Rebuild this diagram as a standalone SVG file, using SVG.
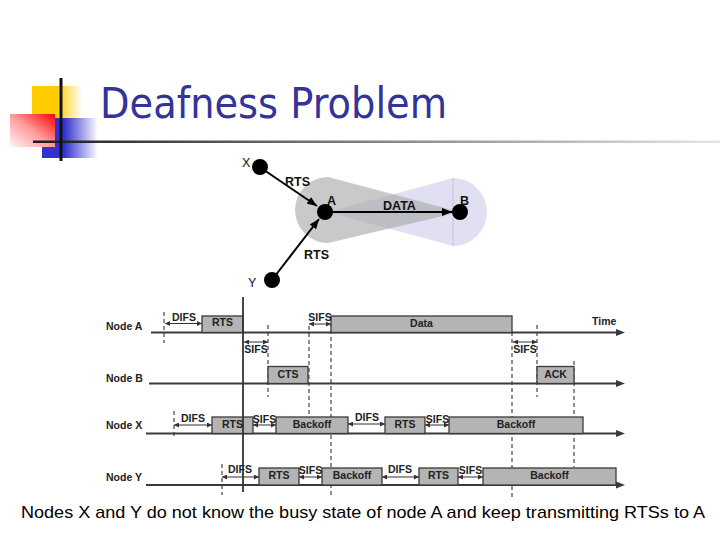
<svg xmlns="http://www.w3.org/2000/svg" width="720" height="540" viewBox="0 0 720 540">
<style>
.title{font-family:"DejaVu Sans","Liberation Sans",sans-serif;font-size:42px;fill:#333399}
.cap{font-family:"Liberation Sans",Arial,sans-serif;font-size:17px;fill:#000}
.lbl{font-family:"Liberation Sans",Arial,sans-serif;font-size:12.5px;font-weight:bold;fill:#111}
.t{font-family:"Liberation Sans",Arial,sans-serif;font-size:10.5px;font-weight:bold;fill:#222}
.tc{font-family:"Liberation Sans",Arial,sans-serif;font-size:10.5px;font-weight:bold;fill:#222;text-anchor:middle}
.ax{stroke:#3a3a3a;stroke-width:2;fill:none;marker-end:url(#tip)}
.bx{fill:#b4b4b4;stroke:#3a3a3a;stroke-width:1.3}
.dsh{stroke:#444;stroke-width:1.2;stroke-dasharray:4 3;fill:none}
.iv{stroke:#333;stroke-width:1;fill:none;marker-start:url(#sm);marker-end:url(#sm)}
.arr{stroke:#000;stroke-width:2;fill:none;marker-end:url(#ah)}
.nd{fill:#000}
</style>
<defs>
<linearGradient id="gy" x1="0" y1="0" x2="1" y2="0"><stop offset="0" stop-color="#FFCC00"/><stop offset="0.5" stop-color="#FFCC00"/><stop offset="1" stop-color="#FFCC00" stop-opacity="0"/></linearGradient>
<linearGradient id="gb" x1="0" y1="0" x2="1" y2="0"><stop offset="0" stop-color="#3333CC"/><stop offset="0.4" stop-color="#3333CC"/><stop offset="1" stop-color="#3333CC" stop-opacity="0"/></linearGradient>
<linearGradient id="gr" x1="0" y1="1" x2="1" y2="0"><stop offset="0" stop-color="#FFF4F4"/><stop offset="0.5" stop-color="#FF9A9A"/><stop offset="1" stop-color="#FF0000"/></linearGradient>
<linearGradient id="gl" x1="0" y1="0" x2="1" y2="0"><stop offset="0" stop-color="#1a1a1a"/><stop offset="0.35" stop-color="#666"/><stop offset="1" stop-color="#e6e6e6"/></linearGradient>
<marker id="ah" markerUnits="userSpaceOnUse" markerWidth="10" markerHeight="8" refX="10" refY="4" orient="auto"><path d="M0,0 L10,4 L0,8 z" fill="#000"/></marker>
<marker id="tip" markerUnits="userSpaceOnUse" markerWidth="9" markerHeight="7" refX="1" refY="3.5" orient="auto"><path d="M0,0 L9,3.5 L0,7 z" fill="#3a3a3a"/></marker>
<marker id="sm" markerUnits="userSpaceOnUse" markerWidth="5" markerHeight="5" refX="5" refY="2.5" orient="auto-start-reverse"><path d="M0,0 L5,2.5 L0,5 z" fill="#333"/></marker>
</defs>

<g id="title-deco">
<rect x="32" y="86" width="50" height="33" fill="url(#gy)"/>
<rect x="42" y="118" width="56" height="40" fill="url(#gb)"/>
<rect x="10" y="114" width="45" height="33" fill="url(#gr)"/>
<rect x="33" y="140.5" width="687" height="2.5" fill="url(#gl)"/>
<rect x="59.5" y="78" width="3" height="83" fill="#111"/>
</g>
<text class="title" x="100" y="118" textLength="347" lengthAdjust="spacingAndGlyphs">Deafness Problem</text>

<g id="ranges">
<path d="M453,178 A34,34 0 0 1 453,246 L328,212 Z" fill="#E0E0F2"/>
<line x1="453" y1="178" x2="453" y2="246" stroke="#C4C4D8" stroke-width="1"/>
<path d="M328,177 L460,212 L328,243 A33,33 0 0 1 328,177 Z" fill="#A8A8A8" fill-opacity="0.62"/>
</g>

<g id="connectors">
<line class="arr" x1="264" y1="170" x2="317" y2="206"/>
<line class="arr" x1="275" y1="276" x2="319" y2="219"/>
<line class="arr" x1="333" y1="212" x2="452" y2="212"/>
</g>

<g id="node-X"><circle class="nd" cx="260" cy="167" r="8"/><text class="lbl" x="242" y="167" style="font-weight:normal">X</text></g>
<g id="node-A"><circle class="nd" cx="325" cy="212" r="8"/><text class="lbl" x="327" y="205">A</text></g>
<g id="node-B"><circle class="nd" cx="460" cy="212" r="8"/><text class="lbl" x="460" y="205">B</text></g>
<g id="node-Y"><circle class="nd" cx="272" cy="280" r="8"/><text class="lbl" x="248" y="287" style="font-weight:normal">Y</text></g>
<g id="edge-labels">
<text class="lbl" x="285" y="186">RTS</text>
<text class="lbl" x="383" y="210">DATA</text>
<text class="lbl" x="304" y="259">RTS</text>
</g>

<g id="timing">
<g id="dashes">
<line class="dsh" x1="164" y1="312" x2="164" y2="343"/>
<line class="dsh" x1="174" y1="411" x2="174" y2="438"/>
<line class="dsh" x1="222" y1="464" x2="222" y2="495"/>
<line class="dsh" x1="268" y1="325" x2="268" y2="397"/>
<line class="dsh" x1="309" y1="326" x2="309" y2="416"/>
<line class="dsh" x1="331" y1="316" x2="331" y2="497"/>
<line class="dsh" x1="512" y1="332" x2="512" y2="497"/>
<line class="dsh" x1="537" y1="325" x2="537" y2="397"/>
<line class="dsh" x1="574" y1="361" x2="574" y2="467"/>
</g>
<g id="axes">
<line class="ax" x1="151" y1="332.5" x2="617" y2="332.5"/>
<line class="ax" x1="149" y1="383.5" x2="617" y2="383.5"/>
<line class="ax" x1="146" y1="433.5" x2="617" y2="433.5"/>
<line class="ax" x1="146" y1="485" x2="617" y2="485"/>
</g>
<g id="boxes">
<rect class="bx" x="202" y="316" width="41" height="16.5"/>
<rect class="bx" x="331" y="316" width="181" height="16.5"/>
<rect class="bx" x="268" y="366.5" width="40" height="17"/>
<rect class="bx" x="537" y="366.5" width="37" height="17"/>
<rect class="bx" x="212" y="417" width="41" height="16.5"/>
<rect class="bx" x="276" y="417" width="72" height="16.5"/>
<rect class="bx" x="385" y="417" width="40" height="16.5"/>
<rect class="bx" x="449" y="417" width="134" height="16.5"/>
<rect class="bx" x="259" y="468" width="40" height="17"/>
<rect class="bx" x="322" y="468" width="60" height="17"/>
<rect class="bx" x="419" y="468" width="39" height="17"/>
<rect class="bx" x="483" y="468" width="133" height="17"/>
</g>
<line x1="243" y1="297" x2="243" y2="492" stroke="#333" stroke-width="1.8"/>
<g id="box-text">
<text class="tc" x="222.5" y="325.5">RTS</text>
<text class="tc" x="421.5" y="327">Data</text>
<text class="tc" x="288" y="377.5">CTS</text>
<text class="tc" x="555.5" y="377.5">ACK</text>
<text class="tc" x="232.5" y="427.5">RTS</text>
<text class="tc" x="312" y="427.5">Backoff</text>
<text class="tc" x="405" y="427.5">RTS</text>
<text class="tc" x="516" y="427.5">Backoff</text>
<text class="tc" x="279" y="479">RTS</text>
<text class="tc" x="352" y="479">Backoff</text>
<text class="tc" x="438.5" y="479">RTS</text>
<text class="tc" x="549.5" y="479">Backoff</text>
</g>
<g id="intervals">
<line class="iv" x1="165" y1="323.5" x2="202" y2="323.5"/>
<line class="iv" x1="244" y1="342" x2="268" y2="342"/>
<line class="iv" x1="309" y1="324" x2="331" y2="324"/>
<line class="iv" x1="513" y1="342" x2="537" y2="342"/>
<line class="iv" x1="174" y1="425" x2="212" y2="425"/>
<line class="iv" x1="253" y1="425" x2="276" y2="425"/>
<line class="iv" x1="348" y1="424" x2="385" y2="424"/>
<line class="iv" x1="425" y1="425" x2="449" y2="425"/>
<line class="iv" x1="222" y1="477" x2="259" y2="477"/>
<line class="iv" x1="299" y1="477" x2="322" y2="477"/>
<line class="iv" x1="382" y1="477" x2="419" y2="477"/>
<line class="iv" x1="458" y1="477" x2="483" y2="477"/>
</g>
<g id="interval-text">
<text class="tc" x="184" y="321">DIFS</text>
<text class="tc" x="256" y="353">SIFS</text>
<text class="tc" x="320" y="320.5">SIFS</text>
<text class="tc" x="525" y="353">SIFS</text>
<text class="tc" x="193" y="422">DIFS</text>
<text class="tc" x="264.5" y="422.5">SIFS</text>
<text class="tc" x="367" y="421">DIFS</text>
<text class="tc" x="437.5" y="422.5">SIFS</text>
<text class="tc" x="240" y="473">DIFS</text>
<text class="tc" x="310.5" y="474">SIFS</text>
<text class="tc" x="400" y="473">DIFS</text>
<text class="tc" x="470.5" y="474">SIFS</text>
</g>
<g id="row-labels">
<text class="t" x="106" y="330">Node A</text>
<text class="t" x="106" y="382">Node B</text>
<text class="t" x="106" y="429">Node X</text>
<text class="t" x="106" y="481">Node Y</text>
<text class="t" x="592" y="325">Time</text>
</g>
</g>

<text class="cap" x="21" y="518" textLength="684" lengthAdjust="spacingAndGlyphs">Nodes X and Y do not know the busy state of node A and keep transmitting RTSs to A</text>
</svg>
